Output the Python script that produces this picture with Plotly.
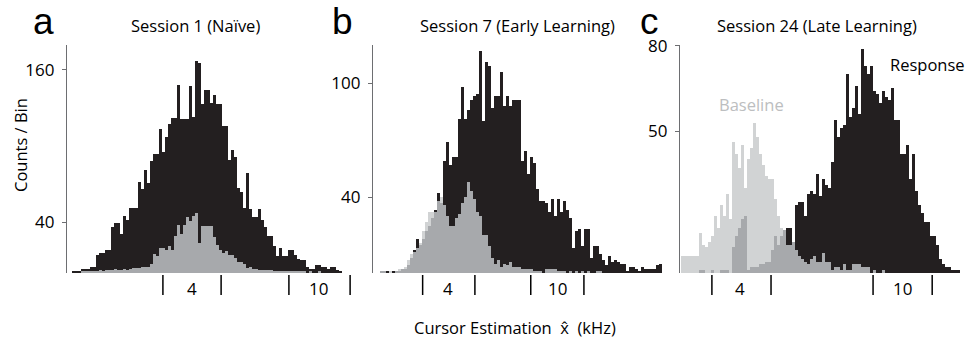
import numpy as np
import plotly.graph_objects as go

# ---- histogram counts per bin (Response = black, Baseline = light grey) ----
resp_a = [1, 1, 1, 3, 3, 3, 5, 5, 14, 16,
          16, 18, 18, 36, 39, 39, 31, 45, 42, 51,
          51, 51, 72, 66, 81, 71, 88, 94, 94, 113,
          95, 107, 117, 122, 122, 148, 121, 121, 121, 147,
          123, 167, 165, 133, 144, 144, 134, 140, 133, 133,
          116, 116, 89, 97, 91, 67, 64, 51, 79, 50,
          44, 44, 50, 42, 36, 29, 29, 21, 13, 20,
          13, 13, 18, 18, 14, 11, 10, 10, 5, 3,
          3, 6, 6, 5, 5, 3, 5, 5, 2, 1]
base_a = [0, 0, 0, 1, 1, 1, 1, 1, 1,
          2, 1, 2, 2, 2, 3, 2, 2, 3, 2, 3,
          4, 4, 4, 5, 5, 5, 7, 15, 13, 20,
          20, 18, 21, 18, 29, 38, 31, 38, 44, 41,
          45, 47, 24, 37, 37, 37, 37, 28, 22, 18,
          16, 17, 14, 14, 12, 9, 9, 7, 4, 5,
          3, 3, 2, 2, 2, 2, 2, 1, 1, 1,
          1, 1, 1, 1, 1, 1, 1, 1, 0, 1,
          0, 0, 1, 0, 0, 0, 0, 0, 0, 0]

resp_b = [1, 1, 1, 0, 1, 1, 1, 2, 2, 4,
          8, 12, 18, 15, 18, 22, 25, 29, 33, 42,
          37, 59, 69, 57, 61, 61, 81, 98, 81, 86,
          91, 93, 94, 117, 80, 111, 109, 87, 93, 93,
          106, 88, 93, 88, 91, 91, 91, 59, 64, 52,
          61, 58, 44, 38, 38, 37, 32, 39, 30, 39,
          32, 38, 33, 29, 13, 22, 23, 14, 23, 23,
          8, 14, 14, 10, 7, 4, 9, 6, 7, 6,
          5, 5, 1, 3, 3, 2, 1, 3, 2, 2,
          2, 2, 4, 5]
base_b = [1, 1, 0, 1, 0, 1, 2, 2, 3, 7,
          10, 11, 13, 16, 22, 27, 32, 32, 32, 38,
          40, 36, 30, 25, 25, 29, 31, 37, 40, 48,
          43, 39, 32, 30, 20, 20, 14, 8, 5, 7,
          3, 5, 4, 6, 3, 3, 3, 2, 2, 2,
          2, 1, 1, 1, 0, 2, 2, 2, 2, 1,
          1, 1, 0, 1, 0, 1, 0, 1, 0, 1,
          0, 0, 1, 1, 0, 0, 0, 0, 0, 0,
          0, 0, 0, 0, 0, 0, 0, 0, 0, 0,
          0, 0, 0, 0]

resp_c = [0, 0, 0, 0, 0, 0, 1, 1, 0, 0,
          1, 0, 0, 1, 1, 1, 0, 9, 13, 16,
          19, 20, 1, 2, 2, 2, 3, 3, 4, 4,
          8, 13, 10, 13, 15, 16, 16, 11, 24, 25,
          25, 20, 28, 29, 28, 35, 27, 33, 31, 30,
          39, 54, 48, 51, 52, 70, 55, 58, 66, 56,
          79, 73, 70, 73, 64, 63, 60, 64, 62, 61,
          65, 54, 54, 42, 42, 45, 33, 42, 29, 24,
          21, 18, 18, 13, 13, 10, 5, 3, 2, 2,
          1, 1, 1]
base_c = [6, 6, 6, 6, 6, 6, 14, 10, 9, 11,
          13, 20, 16, 24, 20, 28, 19, 46, 42, 37,
          45, 30, 40, 44, 53, 48, 42, 38, 34, 33,
          33, 26, 20, 16, 15, 10, 10, 11, 8, 6,
          5, 4, 3, 5, 6, 4, 4, 7, 4, 4,
          1, 2, 2, 1, 3, 1, 1, 3, 3, 3,
          2, 2, 2, 0, 1, 0, 0, 1, 0, 0,
          0, 0, 0, 0, 0, 0, 0, 0, 0, 0,
          0, 0, 0, 0, 0, 0, 0, 0, 0, 0,
          0, 0, 0]

# ---- axis annotations (in bin units) ----
titles = ["Session 1 (Naïve)", "Session 7 (Early Learning)", "Session 24 (Late Learning)"]
letters = ["a", "b", "c"]
ytick_a = [40, 160]
ytick_b = [40, 100]
ytick_c = [50, 80]
xlabel_text = ["4", "10"]
xlabel_pos_a = [39.5, 81.8]
xlabel_pos_b = [22.2, 58.8]
xlabel_pos_c = [19.2, 73.2]
bracket_a = [29.8, 49.2, 71.8, 92.2]
bracket_b = [13.8, 31.2, 49.8, 67.5]
bracket_c = [9.8, 29.5, 63.5, 83.2]

# ---- styling ----
W, H = 966, 341
C_RESP = "#231f20"
C_BASE = "#d1d3d4"
C_OVER = "#a7a9ac"
C_AXIS = "#6d6e71"
FONT = "Open Sans"
LETTER_FONT = "Liberation Sans"
TXT = 16.5


def fx(px):
    return px / W


def fy(py):
    return 1 - py / H


panels = [
    dict(resp=resp_a, base=base_a, yt=ytick_a, yr=[0, 179.5], xr=[-2.17, 93.83],
         dom=[67, 355], lab=xlabel_pos_a, br=bracket_a, title_x=195, letter_x=43),
    dict(resp=resp_b, base=base_b, yt=ytick_b, yr=[0, 120], xr=[-2.73, 93.83],
         dom=[373, 663], lab=xlabel_pos_b, br=bracket_b, title_x=517, letter_x=342),
    dict(resp=resp_c, base=base_c, yt=ytick_c, yr=[0, 80.3], xr=[-0.83, 93.8],
         dom=[680, 964], lab=xlabel_pos_c, br=bracket_c, title_x=817, letter_x=649),
]

fig = go.Figure()
annotations = []
shapes = []
ydom = [fy(273), fy(45)]

for k, p in enumerate(panels):
    sfx = "" if k == 0 else str(k + 1)
    xref, yref = "x" + sfx, "y" + sfx
    resp = np.array(p["resp"], dtype=float)
    base = np.array(p["base"], dtype=float)
    overlap = np.minimum(resp, base)
    bins = np.arange(len(resp))
    for vals, col in ((base, C_BASE), (resp, C_RESP), (overlap, C_OVER)):
        fig.add_trace(go.Bar(x=bins, y=vals, width=1.0, marker=dict(color=col, line=dict(width=0)),
                             xaxis=xref, yaxis=yref, showlegend=False, hoverinfo="skip"))

    fig.layout["xaxis" + sfx] = dict(domain=[fx(p["dom"][0]), fx(p["dom"][1])], range=p["xr"],
                                     visible=False, anchor=yref)
    fig.layout["yaxis" + sfx] = dict(domain=ydom, range=p["yr"], anchor=xref,
                                     showline=True, linecolor=C_AXIS, linewidth=1.2,
                                     showgrid=False, zeroline=False,
                                     tickmode="array", tickvals=p["yt"],
                                     ticks="outside", ticklen=4, tickcolor=C_AXIS, tickwidth=1,
                                     ticklabelstandoff=4,
                                     tickfont=dict(family=FONT, size=17, color="black"))

    for txt, pos in zip(xlabel_text, p["lab"]):
        annotations.append(dict(text=txt, x=pos, xref=xref, y=fy(288), yref="paper",
                                showarrow=False, xanchor="center", yanchor="middle",
                                font=dict(family=FONT, size=17, color="black")))
    for b in p["br"]:
        shapes.append(dict(type="line", xref=xref, yref="paper", x0=b, x1=b,
                           y0=fy(275), y1=fy(295), line=dict(color="black", width=1.5)))

    annotations.append(dict(text=titles[k], x=fx(p["title_x"]), xref="paper", y=fy(25), yref="paper",
                            showarrow=False, xanchor="center", yanchor="middle",
                            font=dict(family=FONT, size=TXT, color="black")))
    annotations.append(dict(text=letters[k], x=fx(p["letter_x"]), xref="paper", y=fy(21.5), yref="paper",
                            showarrow=False, xanchor="center", yanchor="middle", borderpad=0,
                            font=dict(family=LETTER_FONT, size=37, color="black")))

annotations += [
    dict(text="Counts / Bin", x=fx(20), y=fy(145), xref="paper", yref="paper", textangle=-90,
         showarrow=False, xanchor="center", yanchor="middle",
         font=dict(family=FONT, size=TXT, color="black")),
    dict(text="Cursor Estimation  x\u0302  (kHz)", x=fx(515), y=fy(327), xref="paper", yref="paper",
         showarrow=False, xanchor="center", yanchor="middle",
         font=dict(family=FONT, size=TXT, color="black")),
    dict(text="Baseline", x=fx(751), y=fy(105), xref="paper", yref="paper",
         showarrow=False, xanchor="center", yanchor="middle",
         font=dict(family=FONT, size=TXT, color="#bcbec0")),
    dict(text="Response", x=fx(927), y=fy(64), xref="paper", yref="paper",
         showarrow=False, xanchor="center", yanchor="middle",
         font=dict(family=FONT, size=TXT, color="black")),
]

fig.update_layout(width=W, height=H, margin=dict(l=0, r=0, t=0, b=0, autoexpand=False),
                  paper_bgcolor="white", plot_bgcolor="white",
                  barmode="overlay", bargap=0, showlegend=False,
                  annotations=annotations, shapes=shapes)

fig.write_html("out.html")
